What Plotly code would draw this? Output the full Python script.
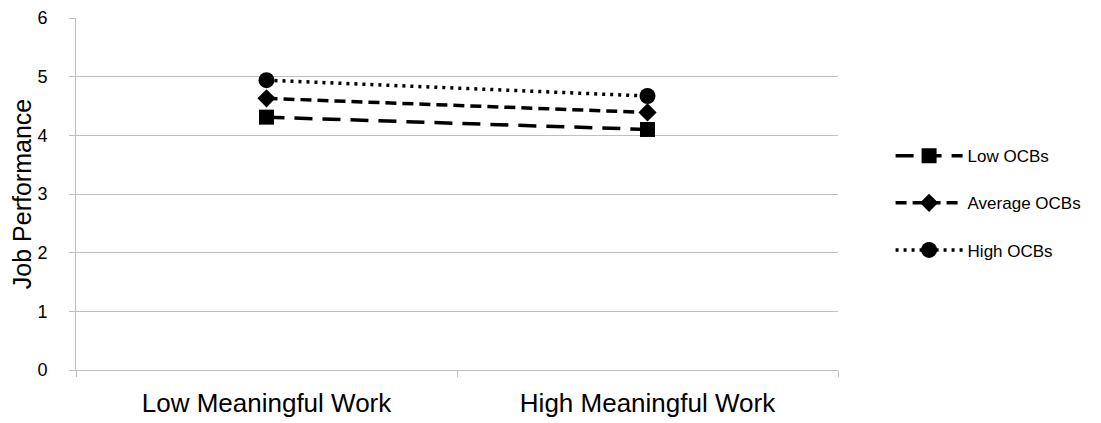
import plotly.graph_objects as go

categories = ["Low Meaningful Work", "High Meaningful Work"]
series_names = ["Low OCBs", "Average OCBs", "High OCBs"]
low_ocbs = [4.31, 4.10]
avg_ocbs = [4.63, 4.39]
high_ocbs = [4.94, 4.67]

values = [low_ocbs, avg_ocbs, high_ocbs]
dashes = ["18px,10px", "11px,6px", "3px,5px"]
symbols = ["square", "diamond", "circle"]
sizes = [15, 14, 16]

fig = go.Figure()
for i, (name, vals, d, s, sz) in enumerate(zip(series_names, values, dashes, symbols, sizes)):
    fig.add_trace(go.Scatter(
        x=categories, y=vals, name=name, mode="lines+markers",
        legendgroup=f"g{i}",
        line=dict(color="black", width=3.5, dash=d),
        marker=dict(symbol=s, size=sz, color="black"),
    ))

fig.update_layout(
    width=1093, height=415,
    margin=dict(l=68, r=263, t=10, b=53),
    plot_bgcolor="white", paper_bgcolor="white",
    font=dict(family="Liberation Sans, Arial, sans-serif", color="black"),
    showlegend=True,
    legend=dict(x=1.069, y=0.474, xanchor="left", yanchor="middle",
                font=dict(size=17), tracegroupgap=22, itemsizing="trace",
                itemwidth=67, bgcolor="rgba(0,0,0,0)"),
    xaxis=dict(
        type="category", tickson="boundaries", ticks="outside",
        ticklen=6, tickcolor="#bfbfbf", showgrid=False,
        showline=True, linecolor="#bfbfbf", linewidth=1,
        tickfont=dict(size=26), range=[-0.5, 1.5], automargin=False,
        ticklabelstandoff=10,
    ),
    yaxis=dict(
        range=[0, 6], dtick=1, ticks="outside", ticklen=6,
        tickcolor="#bfbfbf", showgrid=True, gridcolor="#bfbfbf",
        gridwidth=1, showline=True, linecolor="#bfbfbf", linewidth=1,
        zeroline=False, tickfont=dict(size=18), automargin=False,
        ticklabelstandoff=18,
        title=dict(text="Job Performance", font=dict(size=25), standoff=6),
    ),
)

fig.write_html("out.html")
